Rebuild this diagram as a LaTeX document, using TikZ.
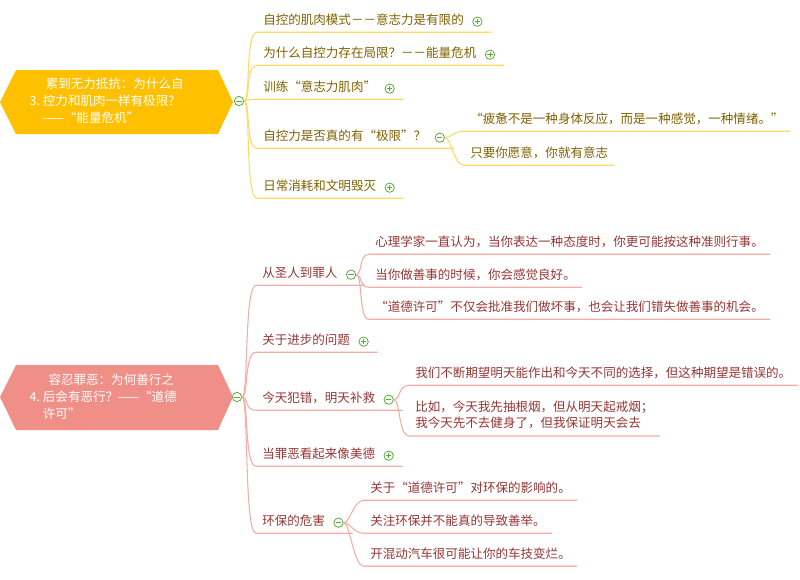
\documentclass[tikz,border=0pt]{standalone}
\usepackage{fontspec}
\setmainfont{Noto Sans CJK SC}
\usepackage{tikz}

\definecolor{ylfill}{HTML}{FFC000}
\definecolor{ylline}{HTML}{FFD966}
\definecolor{yltext}{HTML}{7F6000}
\definecolor{pkfill}{HTML}{EF8F88}
\definecolor{pkline}{HTML}{F4ACA7}
\definecolor{pktext}{HTML}{943634}
\definecolor{foldgreen}{HTML}{5BAA3A}

\tikzset{
	itm/.style={anchor=base west,inner xsep=4.5pt,inner ysep=0pt,text depth=6pt,text height=7.5pt,font=\fontsize{9.4}{12.5}\selectfont},
	fold/.style={circle,draw=foldgreen,fill=white,line width=0.6pt,minimum size=7pt,inner sep=0pt},
	plus/.pic={\draw[foldgreen,line width=0.6pt] (-2pt,0)--(2pt,0) (0,-2pt)--(0,2pt);},
	minus/.pic={\draw[foldgreen,line width=0.6pt] (-2pt,0)--(2pt,0);},
	yl/.style={draw=ylline,line width=0.8pt},
	pk/.style={draw=pkline,line width=0.8pt}
}
\newcommand{\gap}{\kern16pt}

\begin{document}
\begin{tikzpicture}[x=0.75pt,y=-0.75pt]
	\useasboundingbox (0,0) rectangle (800,579);
	
	% branch 3
	\fill[ylfill] (0,102)--(16,70)--(218,70)--(233,102)--(218,134)--(16,134)--cycle;
	\node[text=white,font=\fontsize{9.4}{12.5}\selectfont,anchor=west] (r3) at (25,102)
		{3.\ \begin{tabular}[c]{@{}l@{}}\ 累到无力抵抗：为什么自\\控力和肌肉一样有极限?\\——“能量危机”\end{tabular}};
	\node[fold] (c3) at (239,101) {};
	\pic at (c3) {minus};
	
	\node[itm,text=yltext] (t1) at (257,24)  {自控的肌肉模式－－意志力是有限的\gap};
	\node[itm,text=yltext] (t2) at (257,57)  {为什么自控力存在局限？－－能量危机\gap};
	\node[itm,text=yltext] (t3) at (257,91)  {训练“意志力肌肉”\gap};
	\node[itm,text=yltext] (t4) at (257,140) {自控力是否真的有“极限”？\gap};
	\node[itm,text=yltext] (t5) at (257,190) {日常消耗和文明毁灭\gap};
	\node[itm,text=yltext] (s1) at (464,123) {“疲惫不是一种身体反应，而是一种感觉，一种情绪。”};
	\node[itm,text=yltext] (s2) at (464,157) {只要你愿意，你就有意志};
	
	\foreach \t in {t1,t2,t3,t4,t5}
		\draw[yl] (c3.east) .. controls ([xshift=5pt]c3.east) and ([xshift=-9pt]\t.south west) .. (\t.south west) -- (\t.south east);
	\foreach \t in {t1,t2,t3,t5}{
		\node[fold] (f\t) at ([xshift=-10.5pt,yshift=1pt]\t.east) {};
		\pic at (f\t) {plus};
	}
	\node[fold] (ft4) at ([xshift=-10.5pt,yshift=1pt]t4.east) {};
	\pic at (ft4) {minus};
	\foreach \s in {s1,s2}
		\draw[yl] (ft4.east) .. controls ([xshift=5pt]ft4.east) and ([xshift=-8pt]\s.south west) .. (\s.south west) -- (\s.south east);
	
	% branch 4
	\fill[pkfill] (0,397)--(16,365)--(218,365)--(233,397)--(218,430)--(16,430)--cycle;
	\node[text=white,font=\fontsize{9.4}{12.5}\selectfont,anchor=west] (r4) at (25,398)
		{4.\ \begin{tabular}[c]{@{}l@{}}\ \ 容忍罪恶：为何善行之\\后会有恶行？——“道德\\许可”\end{tabular}};
	\node[fold] (c4) at (237,397) {};
	\pic at (c4) {minus};
	
	\node[itm,text=pktext] (b1) at (256,277) {从圣人到罪人\gap};
	\node[itm,text=pktext] (b2) at (256,344) {关于进步的问题\gap};
	\node[itm,text=pktext] (b3) at (256,402) {今天犯错，明天补救\gap};
	\node[itm,text=pktext] (b4) at (256,458) {当罪恶看起来像美德\gap};
	\node[itm,text=pktext] (b5) at (256,525) {环保的危害\gap};
	
	\node[itm,text=pktext] (k1) at (369,246) {心理学家一直认为，当你表达一种态度时，你更可能按这种准则行事。};
	\node[itm,text=pktext] (k2) at (369,279) {当你做善事的时候，你会感觉良好。};
	\node[itm,text=pktext] (k3) at (369,311) {“道德许可”不仅会批准我们做坏事，也会让我们错失做善事的机会。};
	\node[itm,text=pktext] (k4) at (409,377) {我们不断期望明天能作出和今天不同的选择，但这种期望是错误的。};
	\node[itm,text=pktext,anchor=south west,align=left,text depth=0pt,text height=0pt,inner ysep=6pt] (k5) at (409,436)
		{比如，今天我先抽根烟，但从明天起戒烟；\\我今天先不去健身了，但我保证明天会去};
	\node[itm,text=pktext] (k6) at (364,492) {关于“道德许可”对环保的影响的。};
	\node[itm,text=pktext] (k7) at (364,525) {关注环保并不能真的导致善举。};
	\node[itm,text=pktext] (k8) at (364,558) {开混动汽车很可能让你的车技变烂。};
	
	\foreach \t in {b1,b2,b3,b4,b5}
		\draw[pk] (c4.east) .. controls ([xshift=5pt]c4.east) and ([xshift=-9pt]\t.south west) .. (\t.south west) -- (\t.south east);
	\foreach \t in {b2,b4}{
		\node[fold] (f\t) at ([xshift=-10.5pt,yshift=1pt]\t.east) {};
		\pic at (f\t) {plus};
	}
	\foreach \t/\k in {b1/{k1,k2,k3},b3/{k4,k5},b5/{k6,k7,k8}}{
		\node[fold] (f\t) at ([xshift=-10.5pt,yshift=1pt]\t.east) {};
		\pic at (f\t) {minus};
		\foreach \s in \k
			\draw[pk] (f\t.east) .. controls ([xshift=5pt]f\t.east) and ([xshift=-8pt]\s.south west) .. (\s.south west) -- (\s.south east);
	}
\end{tikzpicture}
\end{document}
